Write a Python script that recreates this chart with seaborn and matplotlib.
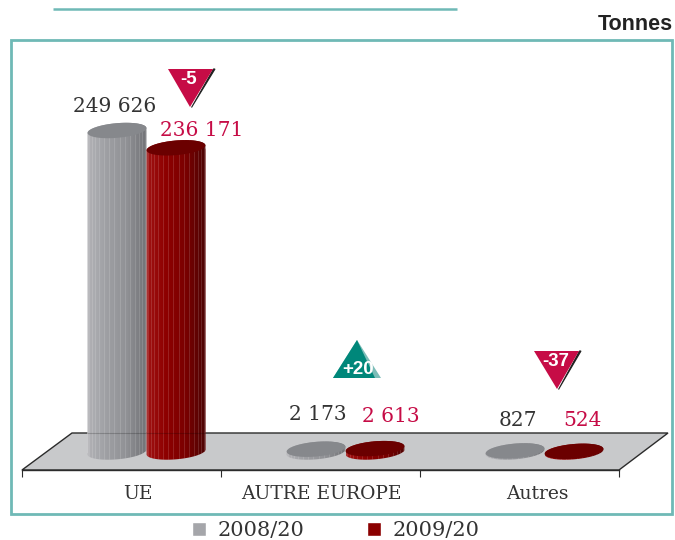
import numpy as np
import pandas as pd
import matplotlib
matplotlib.use("Agg")
import matplotlib.pyplot as plt
from matplotlib.patches import Polygon, Rectangle
from matplotlib.transforms import Affine2D
import seaborn as sns

# ── Data ───────────────────────────────────────────────────
zones = ["UE", "AUTRE EUROPE", "Autres"]
tonnes_2008 = [249626, 2173, 827]
tonnes_2009 = [236171, 2613, 524]
campagnes = ["2008/20", "2009/20"]
variations = ["-5", "+20", "-37"]

# ── Styling ────────────────────────────────────────────────
sns.set_theme(style="white")
SERIF = "DejaVu Serif"
TEAL_FRAME = "#6FB9B6"
CRIMSON = "#C60C46"
TEAL = "#00877A"
TEAL_LIGHT = "#7CBDB8"
INK = "#333333"
FLOOR = "#C8C9CB"
GRAY = "#A5A6AA"
RED = "#8B0000"
W, H = 675, 540

fig = plt.figure(figsize=(W / 100, H / 100), dpi=100, facecolor="white")
# pixel coordinates of the reference, y going down
px = Affine2D().scale(1, -1).translate(0, H)

# axes box is the front edge of the floor
X0, X1, Y_AXIS, Y_TOP = 22, 619, 470, 10
ax = fig.add_axes([X0 / W, 1 - Y_AXIS / H, (X1 - X0) / W, (Y_AXIS - Y_TOP) / H])
ax.patch.set_alpha(0)

CAT_STEP = 199            # px per category
CAT0 = 146.5              # px of first category centre
Y_ZERO = 452              # px of the value 0
Y_BACK = 433              # px of the back edge of the floor
PX_PER_T = 321.5 / 249626

df = pd.DataFrame({
    "zone": zones * 2,
    "tonnes": tonnes_2008 + tonnes_2009,
    "campagne": [campagnes[0]] * 3 + [campagnes[1]] * 3,
})
sns.barplot(data=df, x="zone", y="tonnes", hue="campagne", hue_order=campagnes,
            palette=[GRAY, RED], saturation=1, width=0.593, gap=0, dodge=True,
            ax=ax, zorder=2)

xlim = ((X0 - CAT0) / CAT_STEP, (X1 - CAT0) / CAT_STEP)
ylim = ((Y_ZERO - Y_AXIS) / PX_PER_T, (Y_ZERO - Y_TOP) / PX_PER_T)


def ellipse(cx, value, a_px, t):
    # tilted ellipse (seen in perspective), returned in data coordinates
    b_px, tilt = 7.3, np.radians(5)
    dx = a_px * np.cos(t) * np.cos(tilt) - b_px * np.sin(t) * np.sin(tilt)
    dy = a_px * np.cos(t) * np.sin(tilt) + b_px * np.sin(t) * np.cos(tilt)
    return np.column_stack([cx + dx / CAT_STEP, value + dy / PX_PER_T])


shades = [
    (["#B2B2B6", "#9E9FA3", "#909195", "#727377"], "#86888C"),
    (["#A01414", "#8E0000", "#7A0000", "#4C0404"], "#6B0000"),
]
for k, (container, (stops, top_col)) in enumerate(zip(ax.containers, shades)):
    ramp = matplotlib.colors.LinearSegmentedColormap.from_list("c", stops)
    for bar in container:
        cx = bar.get_x() + bar.get_width() / 2
        val = bar.get_height()
        a = bar.get_width() / 2 * CAT_STEP
        z = 3 + k

        body = np.vstack([ellipse(cx, 0, a, np.linspace(np.pi, 2 * np.pi, 60)),
                          ellipse(cx, val, a, np.linspace(0, np.pi, 60))])
        clip = Polygon(body, closed=True, transform=ax.transData)
        bar.set_clip_path(clip)

        low = -10 / PX_PER_T
        im = ax.imshow(np.linspace(0, 1, 128)[None, :], cmap=ramp, aspect="auto",
                       extent=[cx - a / CAT_STEP, cx + a / CAT_STEP, low, val + 10 / PX_PER_T],
                       zorder=z, interpolation="bilinear")
        im.set_clip_path(clip)

        # facets of the cylinder
        facets = cx - a / CAT_STEP * np.cos(np.linspace(0, np.pi, 18)[1:-1])
        lines = ax.vlines(facets, low, val + 10 / PX_PER_T, colors="white",
                          alpha=0.16, lw=0.6, zorder=z + 0.1)
        lines.set_clip_path(clip)

        # back edge of the floor shows faintly through the tall cylinders
        back = (Y_ZERO - Y_BACK) / PX_PER_T
        if val > back:
            edge = ax.hlines(back, cx - a / CAT_STEP, cx + a / CAT_STEP, colors="black",
                             alpha=0.2, lw=0.8, zorder=z + 0.1)
            edge.set_clip_path(clip)

        ax.add_patch(Polygon(ellipse(cx, val, a, np.linspace(0, 2 * np.pi, 120)),
                             closed=True, fc=top_col, ec="none", zorder=z + 0.2))

ax.set_xlim(*xlim)
ax.set_ylim(*ylim)

# ── Floor and frame ────────────────────────────────────────
ax.add_patch(Polygon([(22, 470), (619, 470), (668, 433), (72, 433)], closed=True,
                     fc=FLOOR, ec="#2b2b2b", lw=1, transform=px, clip_on=False, zorder=1))
ax.add_patch(Rectangle((11, 39.5), 661, 474, fc="none", ec=TEAL_FRAME, lw=2,
                       transform=px, clip_on=False, zorder=0))
ax.plot([53, 457], [8.5, 8.5], color=TEAL_FRAME, lw=1.8, transform=px, clip_on=False,
        solid_capstyle="butt")
ax.text(673, 24, "Tonnes", transform=px, ha="right", va="center", fontsize=15.5,
        fontweight="bold", family="Liberation Sans", color="#222222")

# ── Axis ───────────────────────────────────────────────────
sns.despine(ax=ax, left=True, top=True, right=True)
ax.spines["bottom"].set_color("#2b2b2b")
ax.spines["bottom"].set_linewidth(1)
ax.spines["bottom"].set_zorder(1.5)
ax.set_yticks([])
ax.set_xlabel("")
ax.set_ylabel("")
ax.set_xticks([xlim[0] + i for i in range(4)])
ax.set_xticklabels([])
ax.tick_params(axis="x", which="major", length=5, width=0.8, color="#2b2b2b", bottom=True)
label_px = [138, 321, 537]
ax.set_xticks([(p - CAT0) / CAT_STEP for p in label_px], minor=True)
ax.set_xticklabels(zones, minor=True, family=SERIF, fontsize=13.5, color=INK)
ax.tick_params(axis="x", which="minor", length=0, pad=10.5, bottom=True)

# ── Value labels ───────────────────────────────────────────
fmt = lambda v: f"{v:,}".replace(",", " ")
pos_2008 = [(114.5, 107), (318, 415), (518, 420)]
pos_2009 = [(202, 131), (391, 417), (582, 420)]
for vals, posn, col in [(tonnes_2008, pos_2008, INK), (tonnes_2009, pos_2009, CRIMSON)]:
    for v, (x, y) in zip(vals, posn):
        ax.text(x, y, fmt(v), transform=px, ha="center", va="center", family=SERIF,
                fontsize=14.5, color=col, clip_on=False, zorder=8)

# ── Variation badges ───────────────────────────────────────
down = [(168, 69, 190), (534, 351, 557)]
for (x, y, apex), txt in zip(down, [variations[0], variations[2]]):
    ax.add_patch(Polygon([(x + 45.5, y), (x + 47, y), (apex + 1.5, y + 38.5)], closed=True,
                         fc="#222222", ec="#222222", lw=0.8, transform=px, clip_on=False, zorder=7))
    ax.add_patch(Polygon([(x, y), (x + 45, y), (apex, y + 38)], closed=True, fc=CRIMSON,
                         ec="none", transform=px, clip_on=False, zorder=7.1))
    ax.text(apex - 1, y + 10.5, txt, transform=px, ha="center", va="center",
            family="Liberation Sans", fontweight="bold", fontsize=13.5, color="white", zorder=7.2)
ax.add_patch(Polygon([(357, 340), (381, 378), (333, 378)], closed=True, fc=TEAL_LIGHT,
                     ec="none", transform=px, clip_on=False, zorder=7))
ax.add_patch(Polygon([(357, 340), (375, 378), (333, 378)], closed=True, fc=TEAL,
                     ec="none", transform=px, clip_on=False, zorder=7.1))
ax.text(358, 369, variations[1], transform=px, ha="center", va="center",
        family="Liberation Sans", fontweight="bold", fontsize=13.5, color="white", zorder=7.2)

# ── Legend ─────────────────────────────────────────────────
handles, labels = ax.get_legend_handles_labels()
ax.legend(handles, labels, ncol=2, frameon=False, loc="center",
          bbox_to_anchor=(336 / W, 1 - 531 / H), bbox_transform=fig.transFigure,
          prop={"family": SERIF, "size": 15}, labelcolor=INK, handlelength=0.66,
          handleheight=0.66, handletextpad=0.58, columnspacing=3.0, borderpad=0)

fig.savefig("out.png", dpi=100, facecolor="white")
